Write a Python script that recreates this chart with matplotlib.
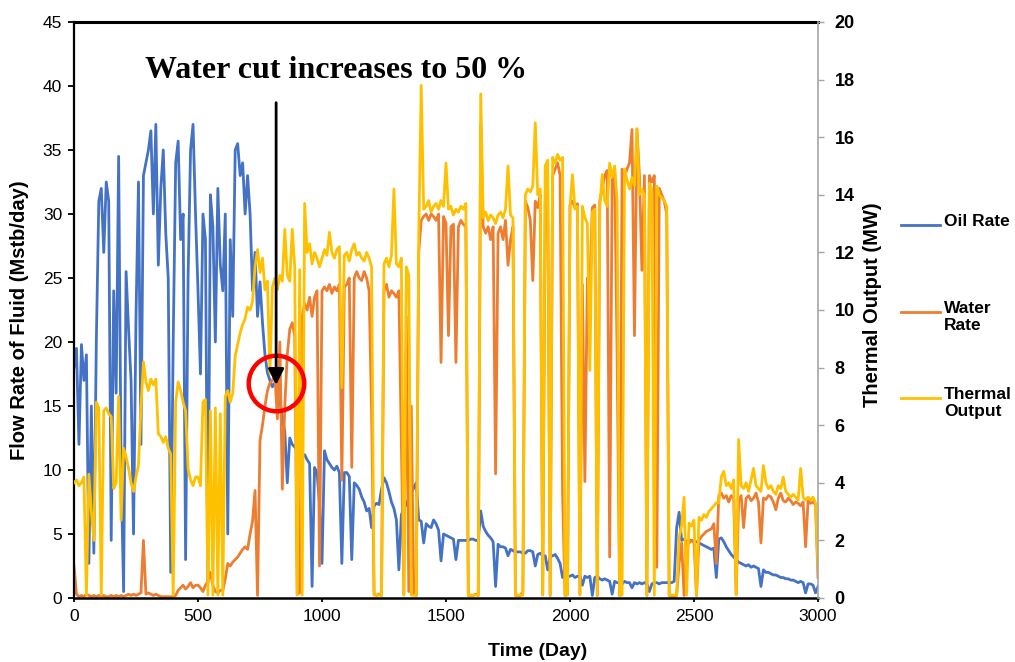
import matplotlib.pyplot as plt
from matplotlib.lines import Line2D

plt.rcParams['font.family'] = ['Liberation Sans', 'DejaVu Sans']

# 每10天一个读数
days = list(range(0, 3001, 10))

# 产油量 (Mstb/day)
oil_rate = [
    18, 19.5, 12, 19.8, 17, 19, 2.7, 15, 3.5, 20,
    31, 32, 27, 32.5, 31, 4.5, 24, 16, 34.5, 10,
    0.5, 25.5, 21, 17, 5, 22, 32.5, 12, 33, 34,
    35, 36.5, 30, 37, 26, 32, 35, 28.5, 25, 2,
    20, 34, 35.7, 28, 30, 3, 25, 35, 37, 30,
    24, 17.5, 30, 28, 1.2, 31.5, 29, 20, 32, 26,
    24, 30, 5, 28, 22, 35, 35.5, 33, 34, 30,
    33, 30, 24, 27, 22, 24.7, 21.5, 19, 17.6, 17,
    16.5, 16.8, 17, 15.5, 14, 13, 9, 12.5, 12, 11.8,
    11.5, 11.3, 11, 11.2, 10.8, 10.5, 0.9, 10.2, 9.8, 7.4,
    2.7, 11.5, 10.8, 10.5, 10.2, 10, 10.3, 9.8, 2.7, 9.8,
    9.8, 9.5, 3, 9, 8.8, 8.5, 7.9, 7.5, 6.8, 7.0,
    5.5, 7.2, 7.4, 7.3, 8.5, 9.4, 9.0, 8.3, 7.5, 7.0,
    6.1, 2.2, 6.5, 7.0, 7.3, 7.8, 8.2, 8.6, 9.0, 6.1,
    6.0, 4.3, 5.8, 5.6, 5.5, 6.1, 5.8, 5.3, 2.9, 5.0,
    4.9, 4.8, 4.7, 4.6, 3.0, 4.5, 4.5, 4.5, 4.5, 4.5,
    4.6, 4.6, 4.5, 4.5, 6.8, 5.6, 5.2, 4.9, 4.7, 4.4,
    0.9, 4.2, 4.0, 4.0, 3.9, 3.3, 3.8, 3.7, 3.6, 3.6,
    3.6, 3.5, 3.5, 3.7, 3.7, 3.6, 2.5, 3.4, 3.5, 3.3,
    3.3, 2.2, 3.2, 3.3, 3.4, 3.1, 2.7, 1.6, 2.3, 1.7,
    1.7, 1.8, 1.6, 1.7, 1.7, 1.0, 1.7, 1.6, 1.7, 0.2,
    1.6, 1.7, 1.5, 1.4, 1.5, 1.4, 1.3, 0.3, 1.3, 1.2,
    1.2, 1.1, 1.3, 1.2, 1.2, 0.8, 1.2, 1.1, 1.2, 1.1,
    1.2, 1.1, 0.5, 1.1, 1.2, 1.2, 1.1, 1.2, 1.2, 1.2,
    1.2, 1.2, 1.3, 5.5, 6.7, 4.5, 4.6, 4.4, 4.5, 4.5,
    4.4, 4.4, 4.3, 4.2, 4.1, 4.0, 3.9, 3.8, 3.9, 1.6,
    4.6, 4.7, 4.4, 4.0, 3.7, 3.4, 3.2, 3.0, 2.8, 2.7,
    2.6, 2.5, 2.6, 2.4, 2.5, 2.4, 2.3, 0.9, 2.2, 2.0,
    2.0, 1.9, 1.8, 1.8, 1.7, 1.6, 1.6, 1.5, 1.5, 1.4,
    1.4, 1.3, 1.2, 1.3, 1.2, 0.4, 1.1, 1.1, 1.0, 0.4,
    0.9,
]

# 产水量 (Mstb/day)
water_rate = [
    2.5, 0.3, 0.1, 0.2, 0.1, 0.3, 0.2, 0.1, 0.2, 0.1,
    0.2, 0.1, 0.2, 0.1, 0.1, 0.2, 0.1, 0.2, 0.1, 0.2,
    0.1, 0.2, 0.3, 0.2, 0.3, 0.2, 0.3, 0.4, 4.5, 0.3,
    0.4, 0.3, 0.2, 0.3, 0.2, 0.1, 0.1, 0.1, 0.1, 0.1,
    0.1, 0.2, 0.6, 0.8, 1.0, 0.7, 0.9, 1.2, 0.8, 1.0,
    1.0, 0.8, 0.5, 1.0, 1.3, 2.0, 1.0, 0.5, 0.4, 0.6,
    0.6, 1.5, 2.7, 2.5, 2.8, 3.0, 3.2, 3.5, 3.8, 4.0,
    3.8, 5.0, 6.0, 8.4, 0.2, 12.3, 13.5, 15, 16.2, 16.8,
    17, 17.5, 14, 20, 8.5, 15, 19, 21, 21.5, 20.5,
    0.3, 0.4, 22, 23, 22.5, 23.5, 22, 23.5, 24, 2.5,
    24, 24.3, 24, 24.5, 23.8, 24.3, 24, 24.5, 9.2, 24.3,
    24.5, 25, 10.2, 25, 25.5, 25, 24.8, 25.5, 25, 24,
    14.5, 0.3, 0.2, 0.3, 0.2, 24, 24.5, 23.5, 24, 23.8,
    23.5, 24, 12, 0.3, 22, 0.5, 15, 0.3, 0.2, 27,
    29.5, 29.8, 30, 29.5, 30, 29.8, 29.5, 30, 18.4, 29.8,
    29.3, 20.5, 29, 29.2, 18.4, 29, 29.5, 29.2, 29, 0.2,
    0.2, 0.2, 0.3, 0.2, 37, 29, 28.5, 29, 28, 29,
    9.7, 28.5, 29, 28, 29.5, 26, 28, 29, 0.2, 0.2,
    0.2, 0.5, 31, 30.5, 29.5, 24.8, 31, 30.5, 31.5, 0.3,
    31, 32, 0.2, 33, 33.5, 34, 33, 8.2, 0.2, 0.3,
    30.7, 31, 30.5, 30.8, 0.3, 24.5, 9.1, 25, 24.5, 30.5,
    30.7, 0.2, 31, 32, 33, 33.4, 3.2, 33, 33.5, 19,
    0.2, 33.5, 33, 33.5, 34, 36.6, 20.5, 36.6, 33, 25.6,
    33, 0.2, 33, 32.5, 33, 2.4, 32, 31.5, 31, 30,
    0.2, 0.1, 0.1, 0.2, 2.7, 4.3, 0.2, 4.4, 4.3, 4.5,
    4.4, 0.2, 4.5, 4.8, 5.0, 5.2, 5.3, 5.4, 5.8, 2.7,
    8.0, 8.2, 7.8, 8.0, 7.5, 8.0, 7.8, 0.3, 7.6, 8.0,
    5.5, 7.8, 8.0, 7.6, 7.8, 8.2, 7.5, 4.3, 7.8, 7.7,
    8.0, 7.9, 7.5, 6.9, 7.8, 8.2, 7.6, 7.5, 7.8, 7.6,
    7.3, 7.5, 7.4, 7.2, 7.5, 4.0, 7.6, 7.4, 7.5, 7.3,
    1.6,
]

# 热输出 (MW)
thermal_output = [
    4.0, 4.1, 3.9, 4.0, 4.2, 0.1, 4.3, 3.0, 2.0, 6.8,
    6.6, 0.1, 6.5, 6.6, 6.4, 6.3, 3.8, 4.0, 7.0, 2.7,
    5.2, 4.9, 4.5, 4.0, 3.7, 4.2, 4.6, 6.6, 8.2, 7.5,
    7.2, 7.6, 7.4, 7.6, 5.7, 5.6, 5.4, 5.6, 5.2, 5.0,
    0.1, 6.8, 7.5, 7.2, 6.8, 6.5, 4.5, 4.1, 3.9, 4.2,
    4.2, 3.9, 6.8, 6.9, 0.1, 6.5, 0.1, 6.6, 0.1, 6.4,
    0.1, 7.0, 7.2, 6.8, 7.1, 8.4, 8.8, 9.2, 9.5, 9.7,
    10.1, 10.0, 10.3, 11.5, 12.1, 11.3, 11.8, 10.7, 11.0, 7.8,
    10.8, 11.1, 10.7, 11.2, 11.0, 12.8, 11.2, 11.0, 12.8, 11.5,
    0.1, 11.4, 0.1, 13.7, 12.0, 12.3, 11.6, 12.0, 11.8, 11.5,
    11.8, 12.1, 11.9, 12.7, 12.0, 11.8, 12.1, 12.2, 7.3, 11.9,
    12.0, 11.7, 12.1, 12.3, 11.9, 12.0, 11.8, 11.7, 12.0, 11.8,
    11.5, 0.1, 0.1, 0.1, 0.1, 11.6, 11.8, 11.5, 11.9, 14.2,
    11.6, 11.5, 11.8, 0.1, 11.5, 11.2, 0.1, 0.1, 0.1, 12.5,
    17.8, 13.5, 13.6, 13.8, 13.4, 13.6, 13.7, 13.5, 13.8, 13.6,
    15.1, 13.5, 13.6, 13.3, 13.5, 13.4, 13.6, 13.5, 13.7, 0.1,
    0.1, 0.1, 0.1, 0.1, 17.5, 13.2, 13.4, 13.1, 13.3, 13.2,
    13.0, 13.3, 13.4, 13.2, 13.5, 15.0, 13.3, 13.2, 0.1, 0.1,
    0.1, 0.1, 14.0, 14.2, 14.1, 14.3, 16.5, 14.0, 14.2, 0.1,
    15.0, 15.2, 0.1, 15.3, 15.1, 15.4, 15.2, 15.3, 0.1, 0.1,
    13.6, 14.7, 13.5, 13.6, 0.1, 13.6, 13.2, 13.0, 7.9, 13.4,
    13.5, 0.1, 13.6, 14.7, 13.8, 13.6, 15.1, 14.6, 15.0, 13.8,
    0.1, 0.1, 14.9, 14.5, 14.2, 14.6, 14.3, 16.3, 14.0, 14.2,
    14.0, 0.1, 14.4, 14.2, 0.1, 14.3, 14.0, 13.9, 13.8, 13.6,
    0.1, 0.1, 0.1, 0.1, 2.1, 2.5, 3.5, 0.1, 2.6, 2.5,
    2.7, 0.1, 2.8, 2.7, 2.9, 2.8, 3.0, 3.1, 3.2, 3.3,
    3.3, 4.2, 4.4, 3.9, 4.0, 3.8, 4.1, 0.1, 5.5, 3.9,
    3.8, 4.0, 3.7, 4.1, 4.5, 3.9, 3.8, 3.7, 4.6, 4.0,
    3.8, 3.9, 3.7, 3.6, 3.9, 3.8, 4.2, 3.7, 3.6, 3.5,
    3.6, 3.5, 3.4, 4.5, 3.5, 3.4, 3.5, 3.4, 3.5, 3.3,
    1.0,
]

series_names = ['Oil Rate', 'Water\nRate', 'Thermal\nOutput']
series_colors = ['#4472C4', '#ED7D31', '#FFC000']

W, H = 1015, 662


def fx(px):
    return px / W


def fy(py):
    return 1 - py / H


fig = plt.figure(figsize=(10.15, 6.62), dpi=100)
ax = fig.add_axes([fx(74), fy(598), 744 / W, 576 / H])
ax2 = ax.twinx()

ax.plot(days, oil_rate, color=series_colors[0], lw=2)
ax.plot(days, water_rate, color=series_colors[1], lw=2)
ax2.plot(days, thermal_output, color=series_colors[2], lw=2)

ax.set_xlim(0, 3000)
ax.set_ylim(0, 45)
ax2.set_ylim(0, 20)
ax.set_xticks(range(0, 3001, 500))
ax.set_yticks(range(0, 46, 5))
ax2.set_yticks(range(0, 21, 2))

# 边框
for side in ['left', 'bottom', 'top']:
    ax.spines[side].set_color('black')
ax.spines['left'].set_linewidth(1.6)
ax.spines['bottom'].set_linewidth(1.8)
ax.spines['top'].set_linewidth(2.2)
ax.spines['right'].set_visible(False)
for side in ['left', 'bottom', 'top']:
    ax2.spines[side].set_visible(False)
ax2.spines['right'].set_color('#A6A6A6')
ax2.spines['right'].set_linewidth(1.2)

ax.tick_params(axis='y', direction='out', length=4.5, width=1.3, pad=4, labelsize=12.5)
ax.tick_params(axis='x', direction='out', length=3, width=1.3, pad=5, labelsize=12.5)
ax2.tick_params(axis='y', direction='out', length=4, width=1, color='#A6A6A6',
                labelcolor='black', pad=8, labelsize=13)
for lbl in ax2.get_yticklabels():
    lbl.set_fontweight('bold')

# 轴标题
fig.text(fx(20), fy(320), 'Flow Rate of Fluid (Mstb/day)', rotation=90,
         ha='center', va='center', fontsize=14.5, fontweight='bold')
fig.text(fx(538), fy(651), 'Time (Day)', ha='center', va='center',
         fontsize=14, fontweight='bold')
fig.text(fx(872), fy(305), 'Thermal Output (MW)', rotation=90,
         ha='center', va='center', fontsize=14.5, fontweight='bold')

# 图例（手动放置）
legend_y = [225, 312, 398]
for name, color, ly in zip(series_names, series_colors, legend_y):
    fig.add_artist(Line2D([fx(901), fx(940)], [fy(ly), fy(ly)], color=color, lw=2))
    fig.text(fx(944), fy(ly - 11), name, ha='left', va='top', fontsize=12.5,
             fontweight='bold', linespacing=1.2)

# 标注：含水率上升至50%
ax2.plot([815], [7.47], 'o', ms=40, mfc='none', mec='red', mew=3.2)
ax2.annotate('', xy=(815, 7.4), xytext=(815, 17.2),
             arrowprops=dict(arrowstyle='-|>', color='black', lw=2,
                             mutation_scale=24, shrinkA=0, shrinkB=0))
ax2.text(1056, 18.3, 'Water cut increases to 50 %', ha='center', va='center',
         fontsize=23, fontweight='bold', family=['Liberation Serif', 'DejaVu Serif'])

fig.savefig('out.png', dpi=100)
